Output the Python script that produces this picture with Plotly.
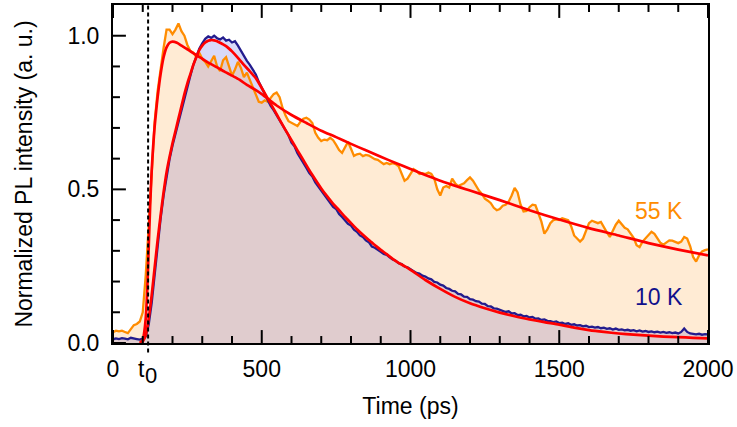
import plotly.graph_objects as go

# ---------------- data ----------------
t_data = list(range(0, 2001, 10))

pl_55K = [
    0.035, 0.040, 0.038, 0.040, 0.036, 0.032, 0.045, 0.058, 0.062, 0.070,
    0.100, 0.220, 0.380, 0.560, 0.720, 0.820, 0.900, 0.960, 1.020, 1.020,
    1.005, 1.020, 1.040, 1.015, 1.000, 0.970, 0.950, 0.945, 0.930, 0.945,
    0.925, 0.915, 0.900, 0.920, 0.935, 0.900, 0.885, 0.920, 0.930, 0.900,
    0.870, 0.890, 0.915, 0.895, 0.865, 0.880, 0.855, 0.830, 0.810, 0.785,
    0.782, 0.790, 0.785, 0.797, 0.810, 0.815, 0.800, 0.765, 0.740, 0.722,
    0.716, 0.711, 0.706, 0.720, 0.730, 0.733, 0.727, 0.716, 0.684, 0.668,
    0.657, 0.662, 0.660, 0.668, 0.660, 0.645, 0.628, 0.619, 0.635, 0.655,
    0.632, 0.609, 0.614, 0.616, 0.608, 0.612, 0.610, 0.603, 0.598, 0.596,
    0.588, 0.582, 0.586, 0.582, 0.585, 0.582, 0.575, 0.548, 0.528, 0.535,
    0.552, 0.566, 0.560, 0.550, 0.553, 0.550, 0.555, 0.550, 0.535, 0.500,
    0.480, 0.506, 0.511, 0.506, 0.535, 0.520, 0.511, 0.515, 0.520, 0.530,
    0.539, 0.528, 0.511, 0.496, 0.485, 0.470, 0.463, 0.455, 0.440, 0.432,
    0.436, 0.447, 0.450, 0.460, 0.480, 0.505, 0.490, 0.450, 0.428, 0.430,
    0.442, 0.450, 0.448, 0.420, 0.395, 0.356, 0.370, 0.390, 0.400, 0.402,
    0.400, 0.406, 0.404, 0.400, 0.380, 0.350, 0.340, 0.330, 0.340, 0.365,
    0.390, 0.398, 0.395, 0.390, 0.394, 0.375, 0.360, 0.345, 0.365, 0.385,
    0.398, 0.385, 0.375, 0.370, 0.355, 0.342, 0.318, 0.312, 0.330, 0.340,
    0.350, 0.362, 0.355, 0.340, 0.326, 0.320, 0.328, 0.334, 0.333, 0.328,
    0.325, 0.330, 0.345, 0.340, 0.315, 0.280, 0.265, 0.285, 0.298, 0.302,
    0.305,
]

pl_10K = [
    0.012, 0.015, 0.013, 0.016, 0.014, 0.012, 0.017, 0.016, 0.013, 0.011,
    0.014, 0.022, 0.060, 0.130, 0.225, 0.320, 0.405, 0.480, 0.545, 0.598,
    0.643, 0.682, 0.722, 0.762, 0.800, 0.838, 0.870, 0.905, 0.935, 0.958,
    0.975, 0.990, 0.998, 0.993, 1.000, 0.992, 0.988, 0.994, 0.984, 0.987,
    0.978, 0.982, 0.968, 0.950, 0.935, 0.918, 0.905, 0.888, 0.874, 0.850,
    0.830, 0.812, 0.790, 0.772, 0.758, 0.742, 0.722, 0.708, 0.690, 0.676,
    0.652, 0.640, 0.618, 0.603, 0.588, 0.570, 0.553, 0.542, 0.523, 0.510,
    0.495, 0.482, 0.468, 0.458, 0.443, 0.436, 0.420, 0.410, 0.400, 0.388,
    0.382, 0.369, 0.362, 0.350, 0.345, 0.334, 0.328, 0.314, 0.310, 0.302,
    0.297, 0.290, 0.287, 0.279, 0.272, 0.268, 0.260, 0.257, 0.249, 0.246,
    0.240, 0.236, 0.228, 0.226, 0.219, 0.216, 0.210, 0.207, 0.199, 0.197,
    0.190, 0.187, 0.179, 0.176, 0.170, 0.168, 0.160, 0.158, 0.151, 0.150,
    0.143, 0.141, 0.136, 0.135, 0.128, 0.127, 0.120, 0.119, 0.113, 0.112,
    0.108, 0.106, 0.101, 0.103, 0.096, 0.097, 0.091, 0.092, 0.087, 0.088,
    0.083, 0.085, 0.079, 0.080, 0.075, 0.077, 0.072, 0.071, 0.068, 0.070,
    0.065, 0.066, 0.062, 0.064, 0.059, 0.061, 0.057, 0.058, 0.054, 0.056,
    0.052, 0.053, 0.050, 0.052, 0.048, 0.050, 0.046, 0.048, 0.044, 0.047,
    0.043, 0.044, 0.041, 0.043, 0.040, 0.042, 0.038, 0.041, 0.037, 0.039,
    0.036, 0.038, 0.035, 0.037, 0.034, 0.036, 0.033, 0.035, 0.032, 0.034,
    0.031, 0.036, 0.047, 0.036, 0.031, 0.030, 0.028, 0.030, 0.027, 0.029,
    0.028,
]

t_fit_55K = [90, 100, 105, 110, 115, 120, 125, 130, 135, 140, 145, 150, 160, 170,
             180, 190, 200, 215, 230, 250, 275, 300, 325, 350, 375, 400, 425, 450,
             475, 500, 550, 600, 650, 700, 750, 800, 850, 900, 950, 1000, 1100,
             1200, 1300, 1400, 1500, 1600, 1700, 1800, 1900, 2000]
fit_55K = [0.0, 0.01, 0.035, 0.08, 0.17, 0.31, 0.45, 0.56, 0.64, 0.705, 0.755,
           0.80, 0.875, 0.93, 0.962, 0.977, 0.981, 0.977, 0.968, 0.956, 0.94,
           0.925, 0.91, 0.897, 0.883, 0.87, 0.857, 0.84, 0.826, 0.81, 0.773,
           0.742, 0.716, 0.691, 0.67, 0.648, 0.627, 0.606, 0.586, 0.566, 0.528,
           0.496, 0.465, 0.432, 0.402, 0.374, 0.35, 0.325, 0.304, 0.285]

t_fit_10K = [95, 100, 110, 120, 130, 140, 150, 160, 170, 180, 190, 200, 210, 220,
             230, 240, 250, 260, 270, 280, 290, 300, 310, 320, 330, 340, 350, 360,
             370, 380, 390, 400, 420, 440, 460, 480, 500, 520, 540, 560, 580, 600,
             620, 640, 660, 680, 700, 720, 740, 760, 780, 800, 820, 840, 860, 880,
             900, 920, 940, 960, 980, 1000, 1050, 1100, 1150, 1200, 1250, 1300,
             1350, 1400, 1450, 1500, 1550, 1600, 1650, 1700, 1750, 1800, 1850,
             1900, 1950, 2000]
fit_10K = [0.0, 0.005, 0.025, 0.08, 0.155, 0.245, 0.335, 0.415, 0.49, 0.555,
           0.605, 0.65, 0.69, 0.73, 0.77, 0.81, 0.845, 0.875, 0.905, 0.93, 0.953,
           0.968, 0.978, 0.984, 0.986, 0.985, 0.982, 0.977, 0.972, 0.966, 0.958,
           0.949, 0.928, 0.905, 0.884, 0.862, 0.83, 0.796, 0.762, 0.727, 0.693,
           0.66, 0.627, 0.595, 0.562, 0.532, 0.503, 0.477, 0.453, 0.432, 0.41,
           0.39, 0.37, 0.352, 0.335, 0.319, 0.303, 0.289, 0.274, 0.261, 0.25,
           0.238, 0.205, 0.176, 0.15, 0.129, 0.113, 0.099, 0.087, 0.077, 0.068,
           0.06, 0.05, 0.042, 0.036, 0.031, 0.027, 0.024, 0.021, 0.019, 0.017,
           0.015]

t0 = 118
x_range = [0, 2000]
y_range = [0, 1.1]
x_tickvals = [0, 500, 1000, 1500, 2000]
x_ticktext = ["0", "500", "1000", "1500", "2000"]
x_minor_step = 100
y_tickvals = [0.0, 0.5, 1.0]
y_ticktext = ["0.0", "0.5", "1.0"]
y_minor_step = 0.1
labels = ["55 K", "10 K"]
label_pos = [(1835, 0.431), (1835, 0.151)]

# ---------------- styles ----------------
FONT = "Liberation Sans, Arial, sans-serif"
FS = 23
ORANGE = "#FF8C00"
NAVY = "#231C8E"
RED = "#FF0000"
W, H = 737, 427
M = dict(l=113, r=25, t=3, b=84)
PW = W - M["l"] - M["r"]     # plot width in px
PH = H - M["t"] - M["b"]     # plot height in px
MAJ_LEN, MIN_LEN = 13, 7

fig = go.Figure()
# fills
fig.add_trace(go.Scatter(x=t_data, y=pl_10K, mode="lines", line=dict(width=0),
                         fill="tozeroy", fillcolor="#D9D9F8", hoverinfo="skip",
                         showlegend=False))
fig.add_trace(go.Scatter(x=t_data, y=pl_55K, mode="lines", line=dict(width=0),
                         fill="tozeroy", fillcolor="rgba(255,155,40,0.2)",
                         hoverinfo="skip", showlegend=False))
# data lines
fig.add_trace(go.Scatter(x=t_data, y=pl_55K, mode="lines",
                         line=dict(color=ORANGE, width=2.3), showlegend=False))
fig.add_trace(go.Scatter(x=t_data, y=pl_10K, mode="lines",
                         line=dict(color=NAVY, width=2.3), showlegend=False))
# fits
fig.add_trace(go.Scatter(x=t_fit_55K, y=fit_55K, mode="lines",
                         line=dict(color=RED, width=2.7, shape="spline", smoothing=0.6),
                         showlegend=False))
fig.add_trace(go.Scatter(x=t_fit_10K, y=fit_10K, mode="lines",
                         line=dict(color=RED, width=2.7, shape="spline", smoothing=0.6),
                         showlegend=False))

# t0 dashed line
fig.add_shape(type="line", xref="x", yref="paper", x0=t0, x1=t0, y0=-0.028, y1=1.0,
              line=dict(color="black", width=2, dash="4px,3px"))

# inside tick marks (bottom + top for x, left for y), placed through the axes
tick_line = dict(color="black", width=2)
n_x = int(round((x_range[1] - x_range[0]) / x_minor_step))
for i in range(n_x + 1):
    xv = x_range[0] + i * x_minor_step
    ln = MAJ_LEN if xv in x_tickvals else MIN_LEN
    fig.add_shape(type="line", xref="x", yref="paper", x0=xv, x1=xv,
                  y0=0, y1=ln / PH, line=tick_line)
    fig.add_shape(type="line", xref="x", yref="paper", x0=xv, x1=xv,
                  y0=1, y1=1 - ln / PH, line=tick_line)
n_y = int(round(1.0 / y_minor_step))
for i in range(n_y + 1):
    yv = round(i * y_minor_step, 3)
    ln = MAJ_LEN if yv in y_tickvals else MIN_LEN
    fig.add_shape(type="line", xref="paper", yref="y", x0=0, x1=ln / PW,
                  y0=yv, y1=yv, line=tick_line)

# t0 label
fig.add_annotation(x=t0, xref="x", y=-0.034, yref="paper", text="t", showarrow=False,
                   xanchor="right", yanchor="top", xshift=-1,
                   font=dict(family=FONT, size=FS, color="black"))
fig.add_annotation(x=t0, xref="x", y=-0.054, yref="paper", text="0", showarrow=False,
                   xanchor="left", yanchor="top", xshift=-5,
                   font=dict(family=FONT, size=FS - 1, color="black"))

# series labels
for txt, (lx, ly), col in zip(labels, label_pos, [ORANGE, "#10108C"]):
    fig.add_annotation(x=lx, y=ly, xref="x", yref="y", text=txt, showarrow=False,
                       xanchor="center", yanchor="middle",
                       font=dict(family=FONT, size=FS, color=col))

axis_common = dict(showline=True, linewidth=2, linecolor="black", mirror=True,
                   showgrid=False, zeroline=False, ticks="",
                   tickfont=dict(family=FONT, size=FS, color="black"),
                   ticklabeloverflow="allow")

fig.update_layout(
    xaxis=dict(range=x_range, tickmode="array", tickvals=x_tickvals,
               ticktext=x_ticktext,
               title=dict(text="Time (ps)", font=dict(family=FONT, size=FS, color="black"),
                          standoff=17),
               ticklabelstandoff=4, **axis_common),
    yaxis=dict(range=y_range, tickmode="array", tickvals=y_tickvals,
               ticktext=y_ticktext,
               title=dict(text="Normalized PL intensity (a. u.)",
                          font=dict(family=FONT, size=FS, color="black"), standoff=28),
               ticklabelstandoff=7, **axis_common),
    width=W, height=H, margin=M,
    plot_bgcolor="white", paper_bgcolor="white",
    font=dict(family=FONT, color="black"), showlegend=False,
)

fig.write_html("out.html", config={"displayModeBar": False},
               post_script="document.body.style.margin='0';")
